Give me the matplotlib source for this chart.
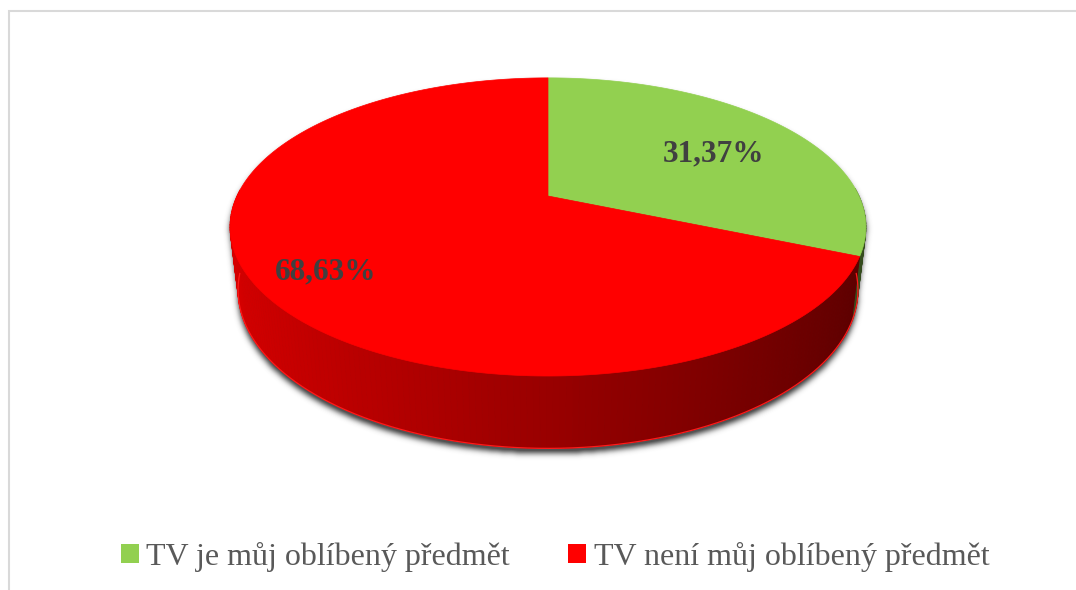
import numpy as np
import matplotlib
matplotlib.use("Agg")
import matplotlib.pyplot as plt
from matplotlib.patches import Polygon, Patch, Rectangle
from matplotlib.path import Path
from matplotlib.colors import to_rgb

labels = ["TV je můj oblíbený předmět", "TV není můj oblíbený předmět"]
values = [31.37, 68.63]
colors = ["#92d050", "#ff0000"]
label_r = [0.69, 0.78]  # where Excel puts the % labels inside each slice

W, H = 1076, 590
CX, CY, S = 548, 196, 311  # pie centre (px) and px per unit radius
ELEV = np.radians(27.3)
DIST = 4.28
DEPTH = 0.23


# 3D point on the disc (angle, height) -> 2D perspective view
def project(theta, z, r=1.0):
	x = r * np.cos(theta)
	y = r * np.sin(theta)
	se, ce = np.sin(ELEV), np.cos(ELEV)
	v = y * se + z * ce
	w = y * ce - z * se
	f = DIST / (DIST + w)
	return x * f, v * f


def shade(color, theta):
	b = 0.6 - 0.25 * np.cos(theta)
	return tuple(np.array(to_rgb(color)) * b)


def blur(img, sigma):
	k = np.arange(-3 * sigma, 3 * sigma + 1)
	k = np.exp(-k ** 2 / (2.0 * sigma ** 2))
	k /= k.sum()
	img = np.apply_along_axis(lambda r: np.convolve(r, k, mode="same"), 1, img)
	img = np.apply_along_axis(lambda c: np.convolve(c, k, mode="same"), 0, img)
	return img


fig = plt.figure(figsize=(W / 100, H / 100), dpi=100)
ax = fig.add_axes([0, 0, 1, 1])
x0, x1 = -CX / S, (W - CX) / S
y0, y1 = -(H - CY) / S, CY / S
ax.set_xlim(x0, x1)
ax.set_ylim(y0, y1)
ax.axis("off")

# slice angles, clockwise from 12 o'clock
starts, ends = [], []
a = np.pi / 2
for v in values:
	starts.append(a)
	a -= 2 * np.pi * v / 100.0
	ends.append(a)

# soft shadow behind the whole cylinder
ts = np.arcsin(-0.2)
back = np.linspace(ts, np.pi - ts, 200)
front = np.linspace(np.pi - ts, 2 * np.pi + ts, 200)
bx, by = project(back, 0)
fx, fy = project(front, -DEPTH)
outline = np.column_stack([np.r_[bx, fx], np.r_[by, fy]])
xs = x0 + (np.arange(W) + 0.5) / S
ys = y1 - (np.arange(H) + 0.5) / S
gx, gy = np.meshgrid(xs, ys)
off = 5.0 / S
mask = Path(outline).contains_points(np.column_stack([gx.ravel(), gy.ravel() + off])).reshape(H, W)
mask = blur(mask.astype(float), 3)
rgba = np.zeros((H, W, 4))
rgba[..., :3] = 0.25
rgba[..., 3] = np.clip(mask * 1.1, 0, 0.9)
ax.imshow(rgba, extent=(x0, x1, y0, y1), origin="upper", interpolation="bilinear", zorder=1)

# side wall facets, only the front half
facets = []
for s, e, c in zip(starts, ends, colors):
	t = np.linspace(s, e, max(int(abs(s - e) * 60), 2))
	for ta, tb in zip(t[:-1], t[1:]):
		tm = 0.5 * (ta + tb)
		if np.sin(tm) > 0.05:
			continue
		xa, ya = project(ta, 0)
		xb, yb = project(tb, 0)
		xc, yc = project(tb, -DEPTH)
		xd, yd = project(ta, -DEPTH)
		col = shade(c, tm)
		facets.append((np.sin(tm), [(xa, ya), (xb, yb), (xc, yc), (xd, yd)], col))
facets.sort(key=lambda f: -f[0])
for _, pts, col in facets:
	ax.add_patch(Polygon(pts, closed=True, fc=col, ec=col, lw=0.6, zorder=2))

# thin bright rim at the bottom edge
t = np.linspace(np.pi + 0.1, 2 * np.pi - 0.1, 300)
rx, ry = project(t, -DEPTH)
ax.plot(rx, ry, color="#ff1a1a", lw=0.9, zorder=3)

# top faces
for s, e, c in zip(starts, ends, colors):
	t = np.linspace(s, e, 300)
	px, py = project(t, 0)
	pts = np.column_stack([np.r_[0, px], np.r_[0, py]])
	ax.add_patch(Polygon(pts, closed=True, fc=c, ec=c, lw=0.5, zorder=4))

# percentage labels
for s, e, v, r in zip(starts, ends, values, label_r):
	lx, ly = project(0.5 * (s + e), 0, r)
	txt = ("%.2f" % v).replace(".", ",") + "%"
	ax.annotate(txt, (lx, ly), xytext=(0, -6), textcoords="offset points", ha="center", va="center",
		fontsize=22.5, fontweight="bold", family="Liberation Serif", color="#404040", zorder=5)

# legend
handles = [Patch(facecolor=c, edgecolor="none") for c in colors]
fig.legend(handles, labels, loc="center", bbox_to_anchor=(555 / W, 1 - 557 / H), ncol=2,
	frameon=False, prop={"family": "Liberation Serif", "size": 23}, labelcolor="#595959",
	handlelength=0.56, handleheight=0.56, handletextpad=0.25, columnspacing=1.8)

# chart area border
fig.add_artist(Rectangle((9 / W, -0.05), 1.0, (H - 11) / H + 0.05, transform=fig.transFigure,
	fill=False, ec="#d9d9d9", lw=1.5))

fig.savefig("out.png", dpi=100)
